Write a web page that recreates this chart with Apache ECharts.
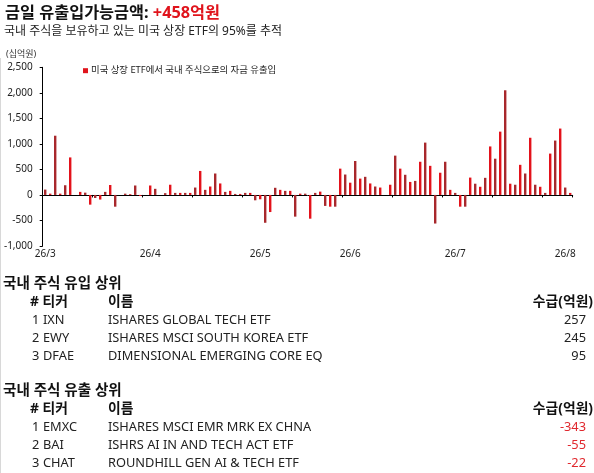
<!DOCTYPE html>
<html>
<head>
<meta charset="utf-8">
<script src="https://cdn.jsdelivr.net/npm/echarts@6/dist/echarts.min.js"></script>
<style>
html,body{margin:0;padding:0;background:#fff;}
#main{width:594px;height:473px;}
</style>
</head>
<body>
<div id="main"></div>
<script>
// ---- data ----
const titleText = '금일 유출입가능금액: ';
const titleValue = '+458억원';
const subtitleText = '국내 주식을 보유하고 있는 미국 상장 ETF의 95%를 추적';
const unitText = '(십억원)';
const seriesName = '미국 상장 ETF에서 국내 주식으로의 자금 유출입';

const flows = [
  105, 25, 1160, 25, 190, 735, 0, 60, 45, -190,
  -60, -90, 60, 195, -230, 0, 25, 15, 185, -20,
  0, 185, 120, 0, 35, 200, 40, 40, 40, 40,
  145, 470, 100, 165, 420, 225, 60, 80, 20, 20,
  40, 40, -105, -85, -545, -335, 140, 100, 80, 80,
  -425, 25, 25, -465, 40, 65, -215, -230, -230, 515,
  400, 240, 665, 320, 355, 225, 165, 145, 0, 200,
  770, 515, 395, 255, 275, 650, 1025, 570, -560, 435,
  650, 100, 40, -230, -230, 340, 220, 160, 335, 950,
  710, 1240, 2050, 220, 200, 590, 420, 1120, 200, 160,
  40, 810, 1065, 1300, 145, 40
];
const monthLabels = ['26/3', '26/4', '26/5', '26/6', '26/7', '26/8'];
const monthIndex = [0, 21, 43, 61, 82, 104];
const yTicks = [-1000, -500, 0, 500, 1000, 1500, 2000, 2500];

const inflowTitle = '국내 주식 유입 상위';
const inflowRank = ['1', '2', '3'];
const inflowTickers = ['IXN', 'EWY', 'DFAE'];
const inflowNames = ['ISHARES GLOBAL TECH ETF', 'ISHARES MSCI SOUTH KOREA ETF', 'DIMENSIONAL EMERGING CORE EQ'];
const inflowValues = [257, 245, 95];

const outflowTitle = '국내 주식 유출 상위';
const outflowRank = ['1', '2', '3'];
const outflowTickers = ['EMXC', 'BAI', 'CHAT'];
const outflowNames = ['ISHARES MSCI EMR MRK EX CHNA', 'ISHRS AI IN AND TECH ACT ETF', 'ROUNDHILL GEN AI & TECH ETF'];
const outflowValues = [-343, -55, -22];

const headRankTicker = '# 티커';
const headName = '이름';
const headValue = '수급(억원)';

// ---- build ----
const categories = flows.map((v, i) => {
  const k = monthIndex.indexOf(i);
  return k >= 0 ? monthLabels[k] : String(i);
});
const FONT = '"Noto Sans", "Noto Sans CJK KR", sans-serif';
const chart = echarts.init(document.getElementById('main'), null, {renderer: 'canvas'});

function tableGraphics(top, title, ranks, tickers, names, values, valColor) {
  const g = [];
  g.push({type: 'text', x: 3, y: top, style: {text: title, font: 'bold 14.6px ' + FONT, fill: '#111', verticalAlign: 'middle'}});
  const hy = top + 18.5;
  g.push({type: 'text', x: 30, y: hy, style: {text: headRankTicker, font: 'bold 13.8px ' + FONT, fill: '#111', verticalAlign: 'middle'}});
  g.push({type: 'text', x: 108, y: hy, style: {text: headName, font: 'bold 13.8px ' + FONT, fill: '#111', verticalAlign: 'middle'}});
  g.push({type: 'text', x: 593, y: hy, style: {text: headValue, font: 'bold 13.8px ' + FONT, fill: '#111', align: 'right', verticalAlign: 'middle'}});
  const rowY = [top + 36.5, top + 54.5, top + 72.5];
  for (let i = 0; i < ranks.length; i++) {
    g.push({type: 'text', x: 32, y: rowY[i], style: {text: ranks[i], font: '12.8px ' + FONT, fill: '#222', verticalAlign: 'middle'}});
    g.push({type: 'text', x: 43, y: rowY[i], style: {text: tickers[i], font: '12.8px ' + FONT, fill: '#222', verticalAlign: 'middle'}});
    g.push({type: 'text', x: 108, y: rowY[i], style: {text: names[i], font: '12.8px ' + FONT, fill: '#222', verticalAlign: 'middle'}});
    g.push({type: 'text', x: 586, y: rowY[i], style: {text: String(values[i]), font: '12.8px ' + FONT, fill: valColor, align: 'right', verticalAlign: 'middle'}});
  }
  return g;
}

const graphics = [].concat(
  [{type: 'line', shape: {x1: 0.5, y1: 58, x2: 0.5, y2: 473}, style: {stroke: '#d8d8d8', lineWidth: 1}}],
  [{type: 'text', x: 6, y: 54, style: {text: unitText, font: '9px ' + FONT, fill: '#333', verticalAlign: 'middle'}}],
  tableGraphics(283.5, inflowTitle, inflowRank, inflowTickers, inflowNames, inflowValues, '#222'),
  tableGraphics(390.5, outflowTitle, outflowRank, outflowTickers, outflowNames, outflowValues, '#e0282e')
);

const option = {
  animation: false,
  backgroundColor: '#fff',
  textStyle: {fontFamily: FONT},
  title: [{
    left: 5, top: 5, padding: 0,
    text: '{a|' + titleText + '}{b|' + titleValue + '}',
    textStyle: {
      rich: {
        a: {fontSize: 16.3, fontWeight: 'bold', color: '#111', fontFamily: FONT},
        b: {fontSize: 16.3, fontWeight: 'bold', color: '#e0141c', fontFamily: FONT}
      }
    }
  }, {
    left: 4, top: 26, padding: 0,
    text: subtitleText,
    textStyle: {fontSize: 12, fontWeight: 'normal', color: '#222', fontFamily: FONT}
  }],
  legend: {
    left: 78, top: 61,
    icon: 'rect', itemWidth: 5, itemHeight: 5, itemGap: 4,
    textStyle: {fontSize: 9.4, color: '#222', fontFamily: FONT, padding: [0, 0, 0, -2]},
    data: [{name: seriesName, itemStyle: {color: '#e0141c'}}]
  },
  grid: {left: 42.7, right: 21.3, top: 67.3, bottom: 227, containLabel: false},
  xAxis: [{
    type: 'category',
    data: categories,
    boundaryGap: true,
    axisLine: {onZero: true, lineStyle: {color: '#000', width: 1}},
    axisTick: {show: true, interval: 9, length: 2.5, inside: false, lineStyle: {color: '#000'}},
    axisLabel: {show: false},
    splitLine: {show: false}
  }, {
    type: 'category',
    data: categories,
    position: 'bottom',
    boundaryGap: true,
    axisLine: {show: false, onZero: false},
    axisTick: {show: false},
    axisLabel: {
      show: true,
      interval: (idx) => monthIndex.indexOf(idx) >= 0,
      formatter: (v) => monthLabels.indexOf(v) >= 0 ? v : '',
      fontSize: 10, color: '#222', margin: 3, fontFamily: FONT
    },
    splitLine: {show: false}
  }],
  yAxis: {
    type: 'value',
    min: yTicks[0], max: yTicks[yTicks.length - 1], interval: 500,
    axisLine: {show: true, lineStyle: {color: '#000', width: 1}},
    axisTick: {show: true, length: 3, lineStyle: {color: '#000'}},
    axisLabel: {fontSize: 10, color: '#222', margin: 10, fontFamily: FONT,
      formatter: (v) => v.toLocaleString('en-US')},
    splitLine: {show: false}
  },
  series: [{
    name: seriesName,
    type: 'bar',
    xAxisIndex: 0,
    data: flows,
    barWidth: 2.4,
    itemStyle: {
      color: (p) => (p.dataIndex % 2 === 1 ? '#e3121b' : '#a8282c')
    }
  }],
  graphic: graphics
};
chart.setOption(option);
</script>
</body>
</html>
